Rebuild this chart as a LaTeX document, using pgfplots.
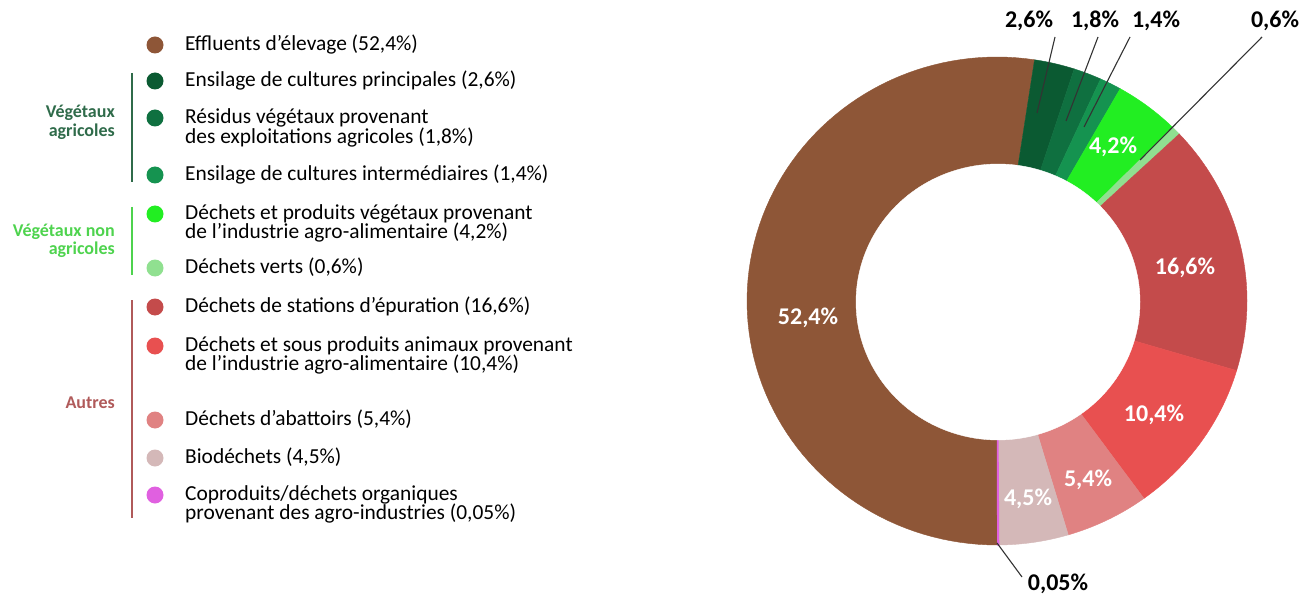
\documentclass[border=0pt]{standalone}
\usepackage{fontspec}
\setmainfont{Carlito}
\usepackage{pgfplots}
\pgfplotsset{compat=1.18}

\definecolor{cBrown}{HTML}{8E5637}
\definecolor{cG1}{HTML}{0B5A32}
\definecolor{cG2}{HTML}{0F7040}
\definecolor{cG3}{HTML}{159350}
\definecolor{cG4}{HTML}{22EE22}
\definecolor{cG5}{HTML}{90E090}
\definecolor{cR1}{HTML}{C44B4B}
\definecolor{cR2}{HTML}{E85050}
\definecolor{cR3}{HTML}{E08282}
\definecolor{cR4}{HTML}{D4B8B8}
\definecolor{cPk}{HTML}{E060E0}
\definecolor{gAgri}{HTML}{2F6B4A}
\definecolor{gNon}{HTML}{4ED34E}
\definecolor{gAut}{HTML}{B05A5A}

% donut: centre (997,297), outer radii 250 x 244, hole 142 x 138
% segments run clockwise from the bottom (270 deg)
\newcommand\cum{270}
\newcommand\seg[2]{%
  \pgfmathsetmacro\sa{\cum-3.6*#1}%
  \edef\doseg{\noexpand\addplot[fill=#2,draw=#2,line width=0.4pt,domain=\sa:\cum,samples=90,variable=\noexpand\t]
    ({997+250*cos(\noexpand\t)},{297+244*sin(\noexpand\t)}) -- (997,297) -- cycle;}%
  \doseg
  \xdef\cum{\sa}%
}

\newcommand\leg[3]{% y (from top), colour, text
  \fill[#2] (155,598-#1) circle[radius=8.5pt];
  \node[anchor=mid west,inner sep=0pt,font=\fontsize{21.4}{24}\selectfont] at (185,595-#1) {#3};}
\newcommand\legline[2]{%
  \node[anchor=mid west,inner sep=0pt,font=\fontsize{21.4}{24}\selectfont] at (185,595-#1) {#2};}

\begin{document}
\begin{tikzpicture}
\useasboundingbox (0,0) rectangle (1303pt,598pt);
\begin{axis}[x=1pt,y=1pt,xmin=0,xmax=1303,ymin=0,ymax=598,
  hide axis,clip=false,anchor=origin,at={(0,0)}]

\seg{52.4}{cBrown}
\seg{2.6}{cG1}
\seg{1.8}{cG2}
\seg{1.4}{cG3}
\seg{4.2}{cG4}
\seg{0.6}{cG5}
\seg{16.6}{cR1}
\seg{10.4}{cR2}
\seg{5.4}{cR3}
\seg{4.5}{cR4}
\addplot[fill=cPk,draw=cPk,line width=1.4pt,domain=-89.82:-89.64,samples=5,variable=\t]
  ({997+250*cos(\t)},{297+244*sin(\t)}) -- (997,297) -- cycle;

\addplot[fill=white,draw=white,domain=0:360,samples=160,variable=\t]
  ({998+142*cos(\t)},{296+138*sin(\t)}) -- cycle;

% labels inside the ring
\begin{scope}[every node/.style={text=white,font=\fontsize{24}{28}\selectfont\bfseries,inner sep=0pt}]
\node at (808,280) {52,4\%};
\node at (1113,451) {4,2\%};
\node at (1185,330) {16,6\%};
\node at (1154,183) {10,4\%};
\node at (1088,118) {5,4\%};
\node at (1028,99) {4,5\%};
\end{scope}

% outside labels and leader lines
\begin{scope}[every node/.style={text=black,font=\fontsize{24}{28}\selectfont\bfseries,inner sep=0pt}]
\node at (1029,577) {2,6\%};
\node at (1095,577) {1,8\%};
\node at (1156,577) {1,4\%};
\node at (1275,577) {0,6\%};
\node at (1058,14) {0,05\%};
\end{scope}
\draw[black!80,line width=1.1pt] (1055,561) -- (1037,485);
\draw[black!80,line width=1.1pt] (1098,561) -- (1066,477);
\draw[black!80,line width=1.1pt] (1130,561) -- (1084,471);
\draw[black!80,line width=1.1pt] (1262,561) -- (1140,438);
\draw[black!80,line width=1.1pt] (997,55) -- (1022,21);

% legend
\leg{45}{cBrown}{Effluents d’élevage (52,4\%)}
\leg{81}{cG1}{Ensilage de cultures principales (2,6\%)}
\leg{118}{cG2}{Résidus végétaux provenant}
\legline{138}{des exploitations agricoles (1,8\%)}
\leg{175}{cG3}{Ensilage de cultures intermédiaires (1,4\%)}
\leg{214}{cG4}{Déchets et produits végétaux provenant}
\legline{233}{de l’industrie agro-alimentaire (4,2\%)}
\leg{268}{cG5}{Déchets verts (0,6\%)}
\leg{307}{cR1}{Déchets de stations d’épuration (16,6\%)}
\leg{346}{cR2}{Déchets et sous produits animaux provenant}
\legline{365}{de l’industrie agro-alimentaire (10,4\%)}
\leg{420}{cR3}{Déchets d’abattoirs (5,4\%)}
\leg{458}{cR4}{Biodéchets (4,5\%)}
\leg{495}{cPk}{Coproduits/déchets organiques}
\legline{514}{provenant des agro-industries (0,05\%)}

% groups
\draw[gAgri,line width=2pt] (132,598-73) -- (132,598-182);
\draw[gNon,line width=2pt] (132,598-207) -- (132,598-275);
\draw[gAut,line width=2pt] (132,598-300) -- (132,598-518);
\begin{scope}[every node/.style={anchor=mid east,inner sep=0pt,font=\fontsize{18}{21}\selectfont\bfseries}]
\node[text=gAgri] at (115,596-113) {Végétaux};
\node[text=gAgri] at (115,596-132) {agricoles};
\node[text=gNon] at (115,596-232) {Végétaux non};
\node[text=gNon] at (115,596-250) {agricoles};
\node[text=gAut] at (115,596-404) {Autres};
\end{scope}
\end{axis}
\end{tikzpicture}
\end{document}
